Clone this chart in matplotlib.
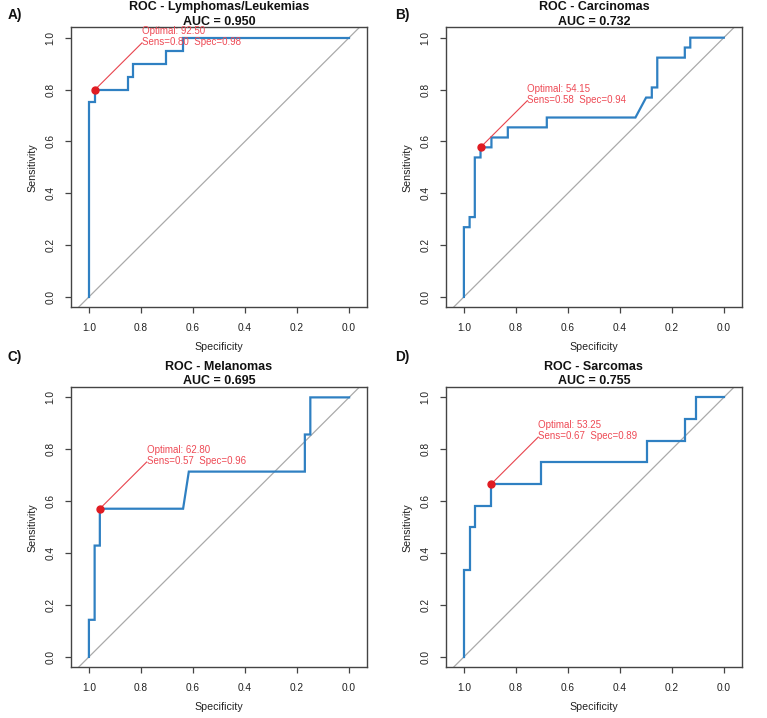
import matplotlib
matplotlib.use("Agg")
import matplotlib.pyplot as plt

plt.rcParams['font.family'] = ['Liberation Sans', 'DejaVu Sans']

# ---------------- data ----------------
panel_labels = ["A)", "B)", "C)", "D)"]
titles = ["ROC - Lymphomas/Leukemias", "ROC - Carcinomas", "ROC - Melanomas", "ROC - Sarcomas"]
aucs = [0.950, 0.732, 0.695, 0.755]

spec_A = [1, 1, 0.976, 0.976, 0.849, 0.849, 0.830, 0.830, 0.703, 0.703, 0.638, 0.638, 0]
sens_A = [0, 0.75, 0.75, 0.80, 0.80, 0.85, 0.85, 0.90, 0.90, 0.95, 0.95, 1.0, 1.0]

spec_B = [1, 1, 0.978, 0.978, 0.958, 0.958, 0.936, 0.936, 0.894, 0.894, 0.831, 0.831,
          0.681, 0.681, 0.340, 0.299, 0.277, 0.277, 0.256, 0.256, 0.150, 0.150, 0.129, 0.129, 0]
sens_B = [0, 0.269, 0.269, 0.308, 0.308, 0.538, 0.538, 0.577, 0.577, 0.615, 0.615, 0.654,
          0.654, 0.692, 0.692, 0.769, 0.769, 0.808, 0.808, 0.923, 0.923, 0.962, 0.962, 1.0, 1.0]

spec_C = [1, 1, 0.978, 0.978, 0.958, 0.958, 0.638, 0.616, 0.170, 0.170, 0.149, 0.149, 0]
sens_C = [0, 0.143, 0.143, 0.429, 0.429, 0.571, 0.571, 0.714, 0.714, 0.857, 0.857, 1.0, 1.0]

spec_D = [1, 1, 0.978, 0.978, 0.958, 0.958, 0.894, 0.894, 0.703, 0.703, 0.297, 0.297,
          0.149, 0.149, 0.106, 0.106, 0]
sens_D = [0, 0.333, 0.333, 0.5, 0.5, 0.583, 0.583, 0.667, 0.667, 0.75, 0.75, 0.833,
          0.833, 0.917, 0.917, 1.0, 1.0]

opt_thresh = [92.50, 54.15, 62.80, 53.25]
opt_spec = [0.976, 0.936, 0.958, 0.894]
opt_sens = [0.80, 0.577, 0.571, 0.667]
opt_spec_lbl = [0.98, 0.94, 0.96, 0.89]
opt_sens_lbl = [0.80, 0.58, 0.57, 0.67]

ticks = [1.0, 0.8, 0.6, 0.4, 0.2, 0.0]
tick_labels = ["1.0", "0.8", "0.6", "0.4", "0.2", "0.0"]
yticks = [0.0, 0.2, 0.4, 0.6, 0.8, 1.0]
ytick_labels = ["0.0", "0.2", "0.4", "0.6", "0.8", "1.0"]

specs = [spec_A, spec_B, spec_C, spec_D]
senss = [sens_A, sens_B, sens_C, sens_D]

# ---------------- layout ----------------
W, H = 767, 718
fig = plt.figure(figsize=(W / 100, H / 100), dpi=100)
fig.patch.set_facecolor("white")

# axes boxes in pixels: (left, top, right, bottom)
boxes = [(70.7, 27.3, 367.3, 307.3), (445.7, 27.3, 742.0, 307.3),
         (70.7, 387.0, 367.3, 667.3), (445.7, 387.0, 742.0, 667.3)]
label_pos = [(7.3, 14.7), (395.3, 14.7), (7.3, 357.0), (395.5, 357.0)]

BLUE = "#2F80C2"
RED_PT = "#E01B22"
RED_LINE = "#E8444E"
RED_TXT = "#EE4A55"
BOX = "#444444"

for i in range(4):
    l, t, r, b = boxes[i]
    ax = fig.add_axes([l / W, 1 - b / H, (r - l) / W, (b - t) / H])
    ax.set_xlim(1.07, -0.07)
    ax.set_ylim(-0.04, 1.04)
    for s in ax.spines.values():
        s.set_color(BOX)
        s.set_linewidth(1.0)
    ax.set_xticks(ticks)
    ax.set_xticklabels(tick_labels)
    ax.set_yticks(yticks)
    ax.set_yticklabels(ytick_labels, rotation=90, va="center")
    ax.tick_params(axis="both", length=4.2, width=0.9, color=BOX, labelsize=7.3,
                   labelcolor="#222222", pad=7)
    ax.text(0.5, -0.142, "Specificity", transform=ax.transAxes, ha="center", va="center",
            fontsize=7.7, color="#222222")
    ax.text(-0.129, 0.5, "Sensitivity", transform=ax.transAxes, ha="center", va="center",
            rotation=90, fontsize=7.7, color="#222222")

    # diagonal reference
    ax.axline((1, 0), (0, 1), color="#AAAAAA", lw=0.9, zorder=1)
    # ROC curve
    ax.plot(specs[i], senss[i], color=BLUE, lw=1.6, zorder=3, solid_joinstyle="miter")

    # optimal threshold
    xs, ys = opt_spec[i], opt_sens[i]
    xe, ye = xs - 0.18, ys + 0.18
    ax.plot([xs, xe], [ys, ye], color=RED_LINE, lw=0.8, zorder=4)
    ax.plot([xs], [ys], "o", color=RED_PT, ms=5, zorder=5)
    ax.annotate("Optimal: %.2f" % opt_thresh[i], (xe, ye), xytext=(0, 6.6),
                textcoords="offset points", ha="left", va="baseline",
                fontsize=7, color=RED_TXT)
    ax.annotate("Sens=%.2f  Spec=%.2f" % (opt_sens_lbl[i], opt_spec_lbl[i]), (xe, ye),
                xytext=(0, -1.65), textcoords="offset points", ha="left", va="baseline",
                fontsize=7, color=RED_TXT)

    # titles
    cx = (l + r) / 2 / W
    fig.text(cx, 1 - (t - 20.3) / H, titles[i], ha="center", va="center",
             fontsize=9, fontweight="bold", color="#111111")
    fig.text(cx, 1 - (t - 5.6) / H, "AUC = %.3f" % aucs[i], ha="center", va="center",
             fontsize=9, fontweight="bold", color="#111111")

    lx, ly = label_pos[i]
    fig.text(lx / W, 1 - ly / H, panel_labels[i], ha="left", va="center",
             fontsize=9.8, fontweight="bold", color="#111111")

fig.savefig("out.png", dpi=100, facecolor="white")
